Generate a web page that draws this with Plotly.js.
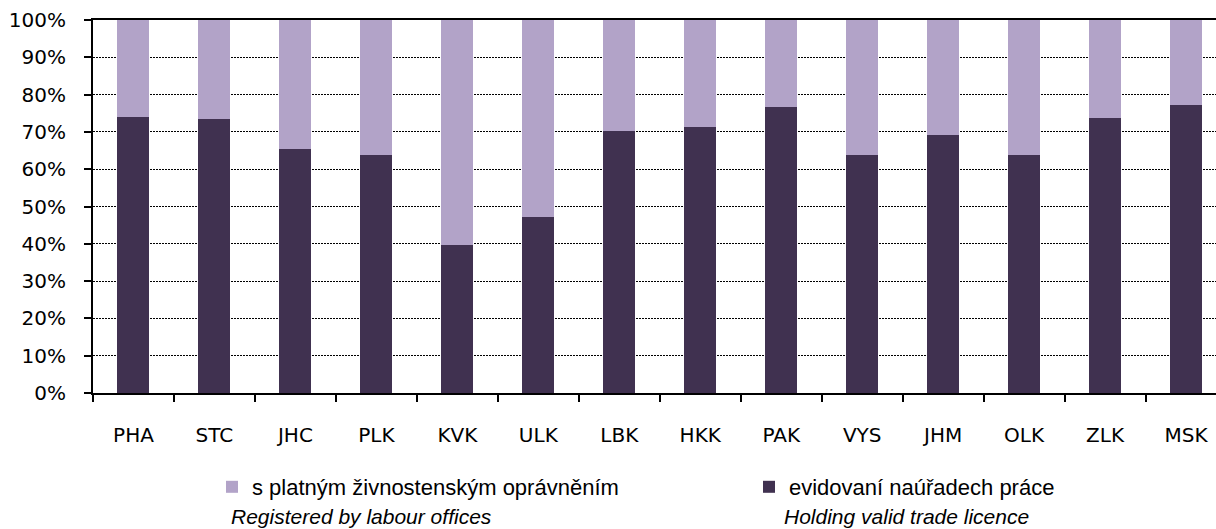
<!DOCTYPE html>
<html>
<head>
<meta charset="utf-8">
<script src="https://cdn.plot.ly/plotly-3.0.1.min.js"></script>
<style>html,body{margin:0;padding:0;background:#fff}#chart{width:1216px;height:529px}</style>
</head>
<body>
<div id="chart"></div>
<script>
const regions = ["PHA","STC","JHC","PLK","KVK","ULK","LBK","HKK","PAK","VYS","JHM","OLK","ZLK","MSK"];
const registeredShare = [0.741,0.735,0.655,0.638,0.398,0.472,0.703,0.713,0.766,0.638,0.693,0.638,0.736,0.772];
const tradeLicenceShare = [0.259,0.265,0.345,0.362,0.602,0.528,0.297,0.287,0.234,0.362,0.307,0.362,0.264,0.228];
const nameRegistered = "evidovaní naúřadech práce";
const nameTrade = "s platným živnostenským oprávněním";
const subRegistered = "Holding valid trade licence";
const subTrade = "Registered by labour offices";

const darkColor = "#403150";
const lightColor = "#b2a3c8";

const traces = [
  {type:"bar", name:nameRegistered, x:regions, y:registeredShare, width:0.395,
   marker:{color:darkColor}, legend:"legend2"},
  {type:"bar", name:nameTrade, x:regions, y:tradeLicenceShare, width:0.395,
   marker:{color:lightColor}, legend:"legend"}
];

const tickFont = {family:"DejaVu Sans, Noto Sans, sans-serif", size:20, color:"#000"};
const legFont = {family:"Liberation Sans, Arial, sans-serif", size:22, color:"#000"};
const subFont = {family:"Liberation Sans, Arial, sans-serif", size:21, color:"#000"};

const L = 93, PW = 1216 - 93, PB = 393, PH = 373;
const legRowY = -(487 - PB) / PH;
const subRowBottom = -(529 - PB) / PH;

const layout = {
  width:1216, height:529,
  margin:{l:L, r:0, t:20, b:136, pad:0},
  paper_bgcolor:"#fff", plot_bgcolor:"#fff",
  barmode:"stack",
  showlegend:true,
  legend:{orientation:"h", x:(212 - L) / PW, xanchor:"left", y:legRowY, yanchor:"middle",
          font:legFont, itemwidth:30, bgcolor:"rgba(0,0,0,0)"},
  legend2:{orientation:"h", x:(749 - L) / PW, xanchor:"left", y:legRowY, yanchor:"middle",
          font:legFont, itemwidth:30, bgcolor:"rgba(0,0,0,0)"},
  xaxis:{type:"category", range:[-0.5, 13.37], showline:true, linecolor:"#000", linewidth:2,
         mirror:true, ticks:"outside", tickson:"boundaries", ticklen:7, tickwidth:2, tickcolor:"#000",
         showgrid:false, tickfont:tickFont, ticklabelstandoff:23, fixedrange:true},
  yaxis:{range:[0,1], dtick:0.1, tick0:0, tickformat:".0%", showline:true, linecolor:"#000", linewidth:2,
         ticks:"outside", ticklen:7, tickwidth:2, tickcolor:"#000",
         showgrid:true, gridcolor:"#000", gridwidth:1, griddash:"2px,1px", zeroline:false,
         tickfont:tickFont, ticklabelstandoff:14, fixedrange:true},
  annotations:[
    {text:"<i>"+subTrade+"</i>", xref:"paper", yref:"paper", x:(230 - L) / PW, y:subRowBottom,
     xanchor:"left", yanchor:"bottom", showarrow:false, font:subFont, borderpad:0},
    {text:"<i>"+subRegistered+"</i>", xref:"paper", yref:"paper", x:(783 - L) / PW, y:subRowBottom,
     xanchor:"left", yanchor:"bottom", showarrow:false, font:subFont, borderpad:0}
  ]
};

Plotly.newPlot("chart", traces, layout, {displayModeBar:false, staticPlot:true});
</script>
</body>
</html>
